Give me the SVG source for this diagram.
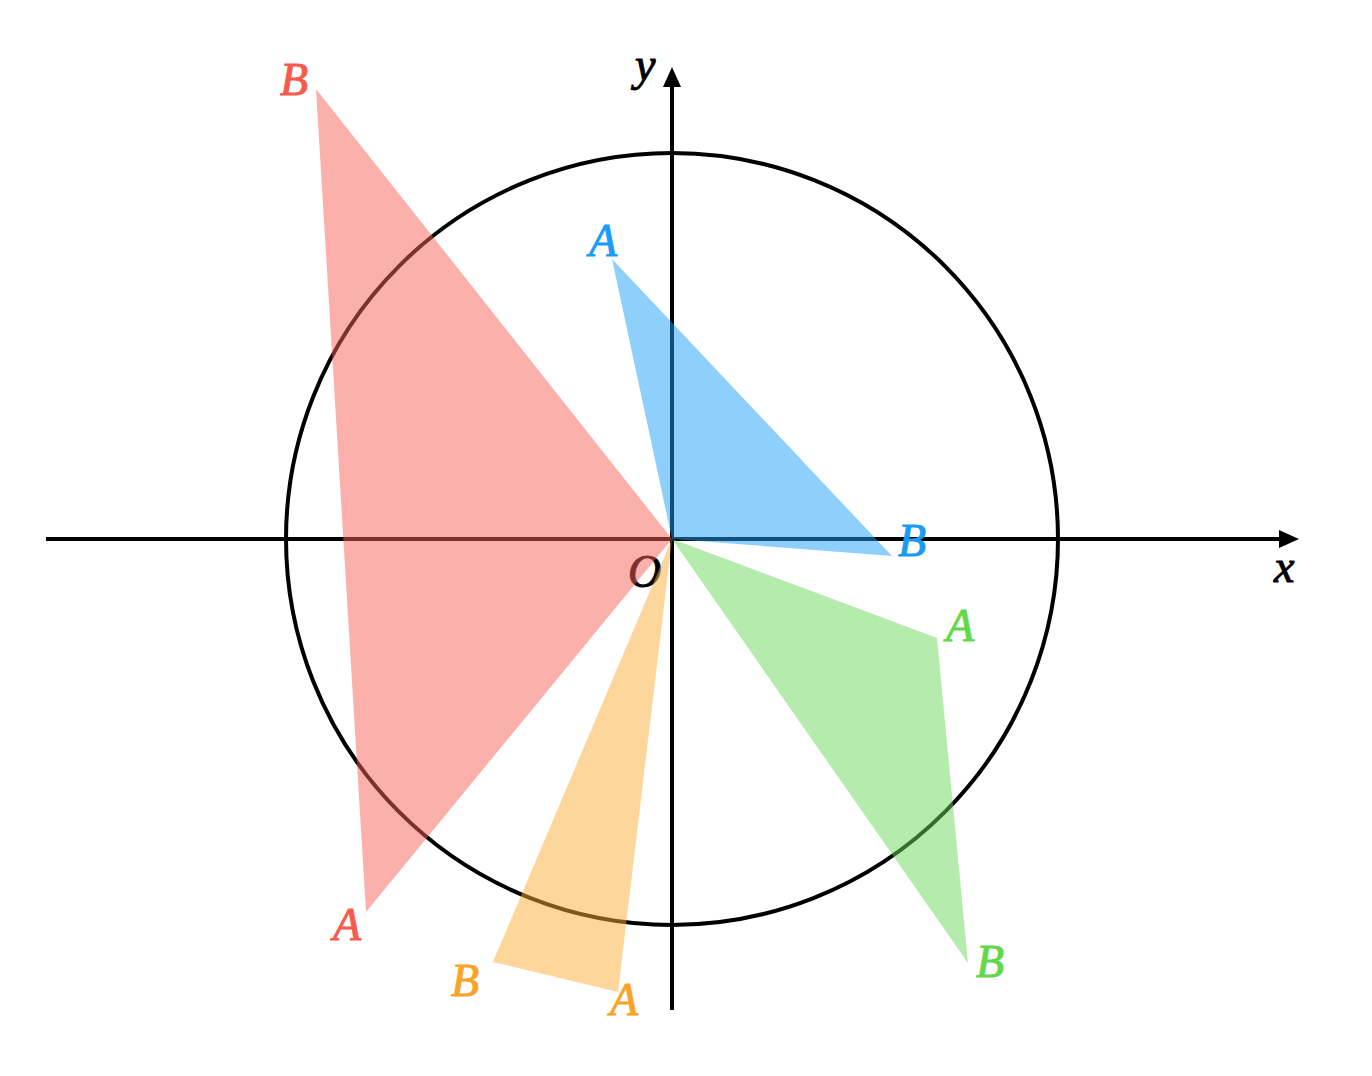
<svg xmlns="http://www.w3.org/2000/svg" width="1372" height="1076" viewBox="0 0 1372 1076">
<style>
.ax{stroke:#000;stroke-width:4;fill:none}
.lbl{font-family:"Liberation Serif","DejaVu Serif",serif;font-style:italic;font-size:46px;stroke-width:1}
.tri{opacity:0.5}
</style>
<defs>
<marker id="arr" viewBox="0 0 20 18" refX="0" refY="9" markerWidth="20" markerHeight="18" markerUnits="userSpaceOnUse" orient="auto">
<path d="M0,0 L20,9 L0,18 Z" fill="#000"/>
</marker>
</defs>
<rect width="1372" height="1076" fill="#fff"/>
<g id="axes">
<line class="ax" x1="46" y1="539" x2="1279" y2="539" marker-end="url(#arr)"/>
<line class="ax" x1="672" y1="1010" x2="672" y2="87" marker-end="url(#arr)"/>
<circle id="circle" class="ax" cx="672" cy="539" r="386"/>
<text class="lbl" x="1274" y="582" fill="#000" stroke="#000">x</text>
<text class="lbl" x="635" y="80" fill="#000" stroke="#000">y</text>
<text class="lbl" x="628" y="587" fill="#000" stroke="#000">O</text>
</g>
<g id="red">
<polygon class="tri" points="672,539 316,89 366,912" fill="#fa6157"/>
<text class="lbl" x="280" y="95" fill="#f85a4c" stroke="#f85a4c">B</text>
<text class="lbl" x="333" y="940" fill="#f85a4c" stroke="#f85a4c">A</text>
</g>
<g id="blue">
<polygon class="tri" points="672,539 612,259 892,556" fill="#1f9ff7"/>
<text class="lbl" x="589" y="256" fill="#1a9cf5" stroke="#1a9cf5">A</text>
<text class="lbl" x="898" y="556" fill="#1a9cf5" stroke="#1a9cf5">B</text>
</g>
<g id="green">
<polygon class="tri" points="672,539 937,638 968,963" fill="#6cd95d"/>
<text class="lbl" x="946" y="641" fill="#62d84a" stroke="#62d84a">A</text>
<text class="lbl" x="976" y="977" fill="#62d84a" stroke="#62d84a">B</text>
</g>
<g id="orange">
<polygon class="tri" points="672,539 493,962 618,992" fill="#f9ae35"/>
<text class="lbl" x="451" y="996" fill="#f7a428" stroke="#f7a428">B</text>
<text class="lbl" x="610" y="1015" fill="#f7a428" stroke="#f7a428">A</text>
</g>
</svg>
